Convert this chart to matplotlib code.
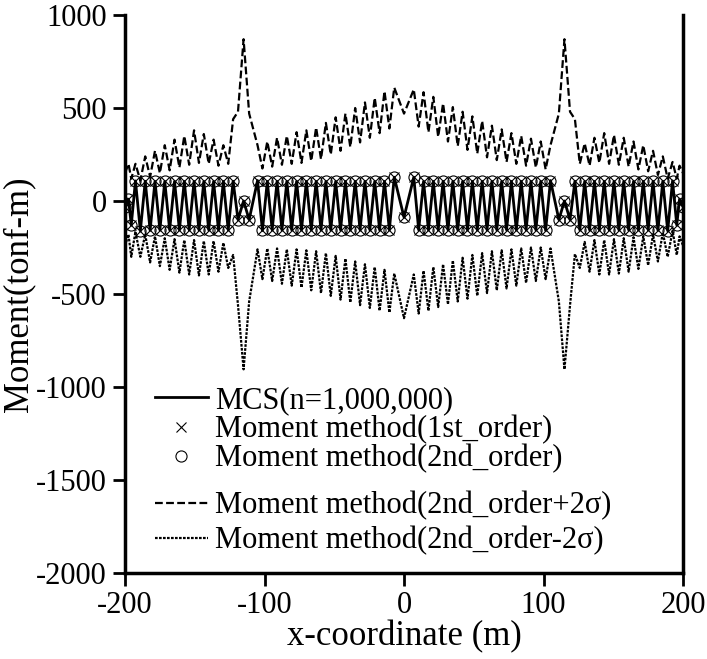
import numpy as np
import matplotlib.pyplot as plt

plt.rcParams['font.family'] = ['Liberation Serif', 'DejaVu Serif']
plt.rcParams['axes.unicode_minus'] = False

# Node positions along the beam (m)
x_m = [-200, -197.5, -195.5,
       -192.5, -189, -185.5, -182, -178.5, -175, -171.5, -168, -164.5, -161, -157.5,
       -154, -150.5, -147, -143.5, -140, -136.5, -133, -129.5, -126, -122.5,
       -119, -115, -111,
       -105, -101.5, -98, -94.5, -91, -87.5, -84, -80.5, -77, -73.5, -70, -66.5, -63,
       -59.5, -56, -52.5, -49, -45.5, -42, -38.5, -35, -31.5, -28, -24.5, -21, -17.5,
       -14, -10.5, -7,
       0,
       7, 10.5, 14, 17.5, 21, 24.5, 28, 31.5, 35, 38.5, 42, 45.5, 49, 52.5, 56, 59.5,
       63, 66.5, 70, 73.5, 77, 80.5, 84, 87.5, 91, 94.5, 98, 101.5, 105,
       111, 115, 119,
       122.5, 126, 129.5, 133, 136.5, 140, 143.5, 147, 150.5, 154, 157.5, 161, 164.5,
       168, 171.5, 175, 178.5, 182, 185.5, 189, 192.5,
       195.5, 197.5, 200]

# MCS mean moment (tonf-m)
mcs = [-30, 10, -129,
       108, -160, 106, -157, 105, -155, 105, -155, 105, -155, 105,
       -155, 105, -155, 105, -155, 105, -155, 105, -155, 106,
       -100, 0, -100,
       110, -158, 105, -155, 105, -155, 105, -155, 105, -155, 105, -155, 105,
       -155, 105, -155, 105, -155, 105, -155, 105, -155, 105, -155, 105, -155,
       105, -155, 128,
       -87,
       128, -155, 105, -155, 105, -155, 105, -155, 105, -155, 105, -155, 105, -155, 105, -155,
       105, -155, 105, -155, 105, -155, 105, -155, 105, -155, 105, -158, 110,
       -100, 0, -100,
       106, -155, 105, -155, 105, -155, 105, -155, 105, -155, 105, -155, 105,
       -155, 105, -155, 105, -157, 106, -160, 108,
       -129, 10, -30]

# moment method results (same nodes)
first_order = [-30, 10, -129,
               108, -160, 106, -157, 105, -155, 105, -155, 105, -155, 105,
               -155, 105, -155, 105, -155, 105, -155, 105, -155, 106,
               -100, 0, -100,
               110, -158, 105, -155, 105, -155, 105, -155, 105, -155, 105, -155, 105,
               -155, 105, -155, 105, -155, 105, -155, 105, -155, 105, -155, 105, -155,
               105, -155, 128,
               -87,
               128, -155, 105, -155, 105, -155, 105, -155, 105, -155, 105, -155, 105, -155, 105, -155,
               105, -155, 105, -155, 105, -155, 105, -155, 105, -155, 105, -158, 110,
               -100, 0, -100,
               106, -155, 105, -155, 105, -155, 105, -155, 105, -155, 105, -155, 105,
               -155, 105, -155, 105, -157, 106, -160, 108,
               -129, 10, -30]
second_order = first_order

# 2nd order +/- 2 sigma
upper = [150, 200, 120,
         200, 110, 240, 130, 270, 150, 300, 165, 330, 180, 350,
         195, 380, 205, 360, 200, 330, 190, 300, 200, 440,
         480, 870, 470,
         300, 175, 320, 185, 340, 195, 350, 200, 370, 205, 380, 215, 395,
         225, 420, 250, 450, 270, 470, 290, 500, 315, 530, 340, 555, 365,
         590, 390, 610,
         470,
         600, 400, 585, 370, 560, 345, 525, 320, 505, 295, 480, 275, 455, 255, 430, 235,
         405, 220, 385, 210, 365, 200, 350, 190, 335, 180, 320, 170, 300,
         470, 870, 480,
         440, 200, 310, 190, 340, 205, 365, 200, 355, 195, 340, 185, 320,
         170, 300, 160, 270, 140, 240, 120, 210,
         120, 190, 150]

lower = [-240, -180, -300,
         -165, -300, -180, -330, -190, -350, -200, -370, -205, -385, -210,
         -395, -210, -400, -215, -395, -215, -380, -225, -360, -290,
         -560, -905, -540,
         -260, -420, -255, -430, -255, -445, -260, -455, -260, -465, -265, -480, -270,
         -495, -280, -510, -295, -530, -310, -545, -325, -560, -340, -575, -355, -590,
         -370, -600, -390,
         -630,
         -395, -605, -375, -590, -355, -570, -340, -555, -320, -540, -305, -525, -290, -510, -280, -495,
         -270, -480, -265, -470, -260, -455, -255, -440, -250, -430, -250, -420, -255,
         -540, -905, -560,
         -285, -360, -220, -380, -210, -395, -210, -395, -205, -390, -200, -380, -195,
         -365, -190, -345, -180, -325, -170, -300, -160,
         -290, -190, -240]

fig = plt.figure(figsize=(7.07, 6.59), dpi=100)
ax = fig.add_axes([0.1768, 0.1305, 0.7893, 0.8467])

l1, = ax.plot(x_m, mcs, '-', color='k', lw=2, zorder=3)
l2, = ax.plot(x_m, first_order, 'x', color='k', ms=7, mew=0.8, zorder=4)
l3, = ax.plot(x_m, second_order, 'o', mfc='none', mec='k', ms=8, mew=0.8, zorder=4)
l4, = ax.plot(x_m, upper, color='k', lw=1.6, dashes=(3.5, 1.5), zorder=2)
l5, = ax.plot(x_m, lower, color='k', lw=1.6, dashes=(1.2, 0.6), zorder=2)

ax.set_xlim(-200, 200)
ax.set_ylim(-2000, 1000)
ax.set_xticks([-200, -100, 0, 100, 200])
ax.set_yticks([1000, 500, 0, -500, -1000, -1500, -2000])

ax.spines['top'].set_visible(False)
for s in ['left', 'right', 'bottom']:
    ax.spines[s].set_linewidth(2.5)
ax.tick_params(direction='out', length=9, width=2, labelsize=22, pad=4)

ax.set_xlabel('x-coordinate (m)', fontsize=25, labelpad=0)
ax.set_ylabel('Moment(tonf-m)', fontsize=25)
ax.yaxis.set_label_coords(-0.16, 0.5)

# legend in two blocks (gap between the 3rd and 4th entry)
kw = dict(loc='upper left', frameon=False, fontsize=22, handlelength=1.73,
          handletextpad=0.25, borderpad=0, borderaxespad=0)
leg1 = ax.legend([l1, l2, l3],
                 ['MCS(n=1,000,000)', 'Moment method(1st_order)', 'Moment method(2nd_order)'],
                 bbox_to_anchor=(0.0536, 0.335), labelspacing=0.0, **kw)
ax.add_artist(leg1)
ax.legend([l4, l5],
          ['Moment method(2nd_order+2σ)', 'Moment method(2nd_order-2σ)'],
          bbox_to_anchor=(0.0536, 0.147), labelspacing=0.2, **kw)

fig.savefig('out.png', dpi=100)
